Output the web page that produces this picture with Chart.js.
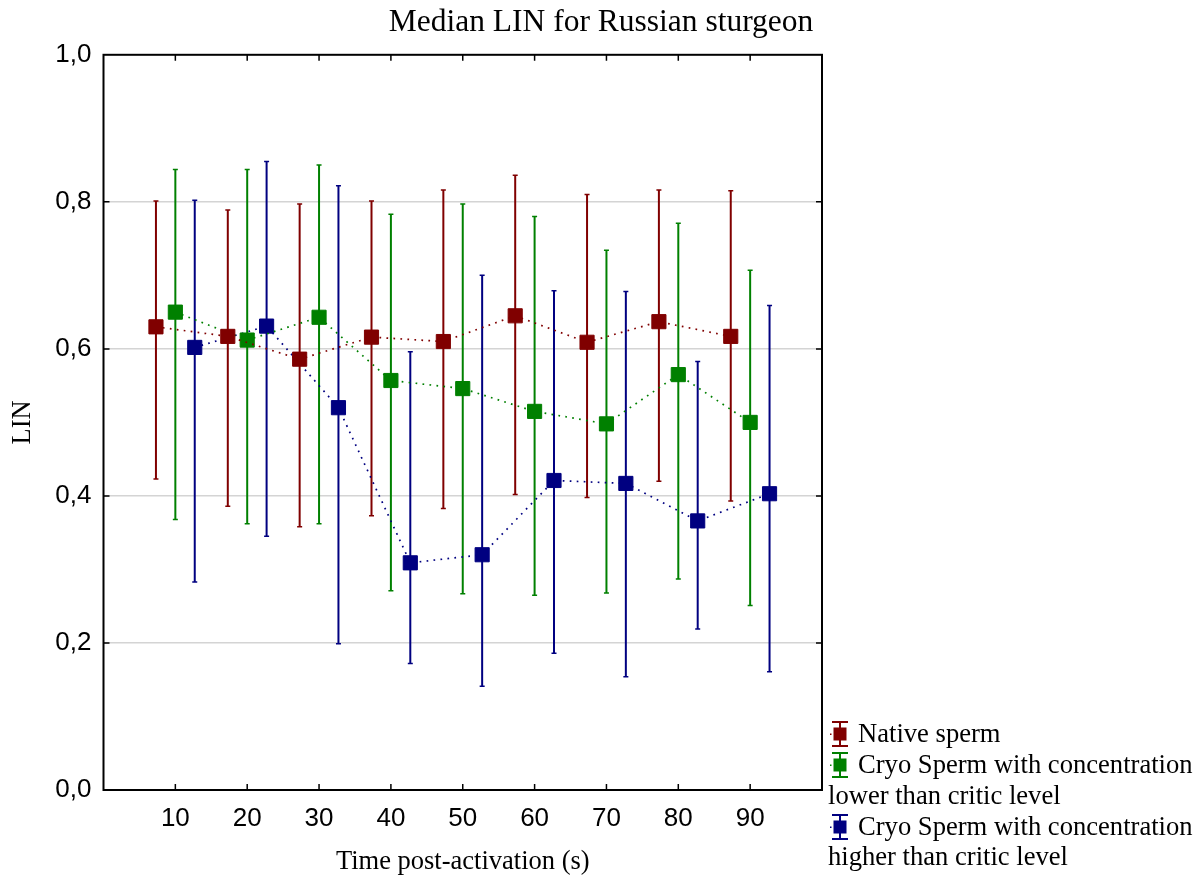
<!DOCTYPE html>
<html>
<head>
<meta charset="utf-8">
<script src="https://cdn.jsdelivr.net/npm/chart.js@4"></script>
<style>
  body { margin: 0; background: #fff; }
  canvas { display: block; }
</style>
</head>
<body>
<canvas id="chart" width="1202" height="882"></canvas>
<script>
// time points (s)
const timePoints = [10, 20, 30, 40, 50, 60, 70, 80, 90];

// native sperm
const nativeMedian = [0.630, 0.617, 0.586, 0.616, 0.610, 0.645, 0.609, 0.637, 0.617];
const nativeLow = [0.423, 0.386, 0.358, 0.373, 0.383, 0.402, 0.398, 0.420, 0.393];
const nativeHigh = [0.801, 0.789, 0.797, 0.801, 0.816, 0.836, 0.810, 0.816, 0.815];

// cryo, concentration lower than critic level
const lowMedian = [0.650, 0.612, 0.643, 0.557, 0.546, 0.515, 0.498, 0.565, 0.500];
const lowLow = [0.368, 0.362, 0.362, 0.271, 0.267, 0.265, 0.268, 0.287, 0.251];
const lowHigh = [0.844, 0.844, 0.850, 0.783, 0.797, 0.780, 0.734, 0.771, 0.707];

// cryo, concentration higher than critic level
const highMedian = [0.602, 0.631, 0.520, 0.309, 0.320, 0.421, 0.417, 0.366, 0.403];
const highLow = [0.283, 0.345, 0.199, 0.172, 0.141, 0.186, 0.154, 0.219, 0.161];
const highHigh = [0.802, 0.855, 0.822, 0.596, 0.700, 0.679, 0.678, 0.583, 0.659];

const seriesNames = [
    ["Native sperm"],
    ["Cryo Sperm with concentration", "lower than critic level"],
    ["Cryo Sperm with concentration", "higher than critic level"],
];
const colors = ["#800000", "#008000", "#000080"];
const xOffsets = [-2.7, 0, 2.7];

const SERIF = "'Liberation Serif', 'Times New Roman', serif";
const SANS = "'Liberation Sans', Arial, sans-serif";

const makeSet = (i, med, lo, hi) => ({
    label: seriesNames[i].join(" "),
    data: timePoints.map((t, k) => ({ x: t + xOffsets[i], y: med[k] })),
    errLow: lo,
    errHigh: hi,
    borderColor: colors[i],
    backgroundColor: colors[i],
    borderWidth: 1.7,
    borderDash: [1.7, 5.3],
    pointStyle: "rect",
    pointRadius: 10,
    pointBorderWidth: 1,
    pointBackgroundColor: colors[i],
    pointBorderColor: colors[i],
    tension: 0,
});

// error bars drawn under the squares
const errorBars = {
    id: "errorBars",
    beforeDatasetsDraw(chart) {
        const { ctx, scales: { x, y } } = chart;
        ctx.save();
        chart.data.datasets.forEach((ds) => {
            ctx.strokeStyle = ds.borderColor;
            ds.data.forEach((p, k) => {
                const px = x.getPixelForValue(p.x);
                const yl = y.getPixelForValue(ds.errLow[k]);
                const yh = y.getPixelForValue(ds.errHigh[k]);
                ctx.lineWidth = 2;
                ctx.beginPath();
                ctx.moveTo(px, yl);
                ctx.lineTo(px, yh);
                ctx.stroke();
                ctx.lineWidth = 1.5;
                ctx.beginPath();
                ctx.moveTo(px - 2.5, yl);
                ctx.lineTo(px + 2.5, yl);
                ctx.moveTo(px - 2.5, yh);
                ctx.lineTo(px + 2.5, yh);
                ctx.stroke();
            });
        });
        ctx.restore();
    },
};

// box frame with inward tick marks
const frame = {
    id: "frame",
    beforeDatasetsDraw(chart) {
        const { ctx, chartArea: a, scales: { x, y } } = chart;
        ctx.save();
        ctx.strokeStyle = "#000";
        ctx.lineWidth = 1.5;
        ctx.beginPath();
        for (let v = 10; v < 100; v += 10) {
            const px = x.getPixelForValue(v);
            ctx.moveTo(px, a.bottom);
            ctx.lineTo(px, a.bottom - 6);
            ctx.moveTo(px, a.top);
            ctx.lineTo(px, a.top + 6);
        }
        for (let v = 0.2; v < 0.95; v += 0.2) {
            const py = y.getPixelForValue(v);
            ctx.moveTo(a.left, py);
            ctx.lineTo(a.left + 6, py);
            ctx.moveTo(a.right, py);
            ctx.lineTo(a.right - 6, py);
        }
        ctx.stroke();
        ctx.lineWidth = 2;
        ctx.strokeRect(a.left, a.top, a.right - a.left, a.bottom - a.top);
        ctx.restore();
    },
};

// legend below-right of the plot, with wrapped labels
const sideLegend = {
    id: "sideLegend",
    afterDraw(chart) {
        const { ctx } = chart;
        const rows = [734, 765, 827];
        const wraps = [null, 796, 857];
        ctx.save();
        ctx.font = "26.6px " + SERIF;
        ctx.textBaseline = "middle";
        seriesNames.forEach((lines, i) => {
            const cy = rows[i];
            const cx = 840;
            const c = colors[i];
            ctx.strokeStyle = c;
            ctx.fillStyle = c;
            ctx.lineWidth = 2;
            ctx.beginPath();
            ctx.moveTo(cx, cy - 12);
            ctx.lineTo(cx, cy + 12);
            ctx.moveTo(cx - 8, cy - 12);
            ctx.lineTo(cx + 8, cy - 12);
            ctx.moveTo(cx - 8, cy + 12);
            ctx.lineTo(cx + 8, cy + 12);
            ctx.stroke();
            ctx.fillRect(cx - 6.5, cy - 6.5, 13, 13);
            ctx.fillRect(cx - 10, cy - 0.5, 1.5, 1.5);
            ctx.fillStyle = "#000";
            ctx.fillText(lines[0], 858, cy + 1);
            if (lines[1]) ctx.fillText(lines[1], 828, wraps[i] + 1);
        });
        ctx.restore();
    },
};

new Chart(document.getElementById("chart"), {
    type: "line",
    data: {
        datasets: [
            makeSet(0, nativeMedian, nativeLow, nativeHigh),
            makeSet(1, lowMedian, lowLow, lowHigh),
            makeSet(2, highMedian, highLow, highHigh),
        ],
    },
    options: {
        responsive: false,
        animation: false,
        layout: { padding: 0 },
        plugins: {
            legend: { display: false },
            tooltip: { enabled: false },
            title: {
                display: true,
                text: "Median LIN for Russian sturgeon",
                color: "#000",
                font: { family: SERIF, size: 31.5, weight: "normal" },
                padding: { top: 4, bottom: 13 },
            },
        },
        scales: {
            x: {
                type: "linear",
                min: 0,
                max: 100,
                grid: { display: false, drawTicks: false },
                border: { display: false },
                ticks: {
                    stepSize: 10,
                    autoSkip: false,
                    maxRotation: 0,
                    padding: 13,
                    color: "#000",
                    font: { family: SANS, size: 26 },
                    callback: (v) => (v > 0 && v < 100 ? String(v) : ""),
                },
                title: {
                    display: true,
                    text: "Time post-activation (s)",
                    color: "#000",
                    font: { family: SERIF, size: 26.5 },
                    padding: { top: 0, bottom: 4 },
                },
                afterFit: (s) => { s.height = 92; },
            },
            y: {
                min: 0,
                max: 1,
                grid: {
                    drawTicks: false,
                    lineWidth: 1.5,
                    color: (c) => (c.tick.value > 0.01 && c.tick.value < 0.99 ? "#d4d4d4" : "rgba(0,0,0,0)"),
                },
                border: { display: false },
                ticks: {
                    stepSize: 0.2,
                    padding: 12,
                    color: "#000",
                    font: { family: SANS, size: 26 },
                    callback: (v) => v.toFixed(1).replace(".", ","),
                },
                title: {
                    display: true,
                    text: "LIN",
                    color: "#000",
                    font: { family: SERIF, size: 26.5 },
                    padding: { top: 7, bottom: 0 },
                },
                afterFit: (s) => { s.width = 103.5; },
            },
            yR: {
                position: "right",
                min: 0,
                max: 1,
                grid: { display: false, drawTicks: false },
                border: { display: false },
                ticks: { display: false },
                afterFit: (s) => { s.width = 380; },
            },
        },
    },
    plugins: [errorBars, frame, sideLegend],
});
</script>
</body>
</html>
